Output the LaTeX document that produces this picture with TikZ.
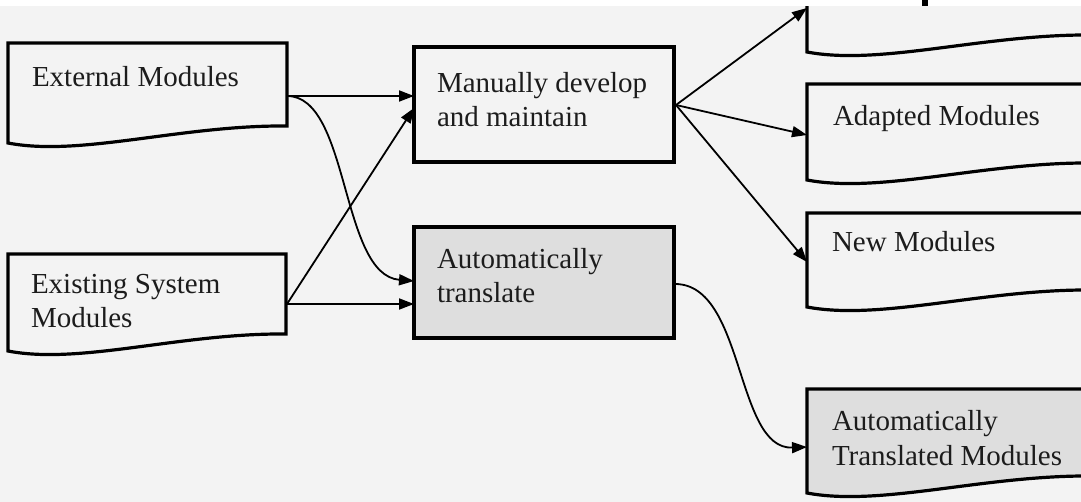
\documentclass[tikz,border=0pt]{standalone}
\usepackage{fontspec}
\setmainfont{Liberation Serif}
\usetikzlibrary{arrows.meta,calc}
\definecolor{bg}{HTML}{F3F3F3}
\definecolor{shade}{HTML}{DEDEDE}
\definecolor{ink}{HTML}{1C1C1C}
\tikzset{
  boxnode/.style={draw=none, inner sep=0pt, outer sep=0pt, rectangle},
  docline/.style={draw=black, line width=3.2pt, line join=miter},
  lbl/.style={inner sep=0pt, outer sep=0pt, anchor=base west, align=left, text=ink,
    font=\fontsize{29}{34.5}\selectfont},
  conn/.style={draw=black, line width=1.8pt, -{Triangle[length=15pt,width=11pt]}},
}
% name, x0, top, x1, right-bottom y, fill
\newcommand\mydoc[6]{%
  \node[boxnode, minimum width={#4-#2}, minimum height={#5-#3}, anchor=north west] (#1) at (#2,#3) {};
  \draw[docline, fill=#6] (#4,#5) -- (#4,#3) -- (#2,#3) -- (#2,{#5+17})
     .. controls ({#2+0.26*(#4-#2)},{#5+31}) and ({#2+0.62*(#4-#2)},{#5-1}) .. (#4,#5) -- cycle;
}
\begin{document}
\begin{tikzpicture}[x=1pt,y=-1pt]
\useasboundingbox (0,0) rectangle (1081,502);
\fill[bg] (0,0) rectangle (1081,502);

% document-shaped boxes
\mydoc{ext}{8}{43}{287}{126}{bg}
\mydoc{exs}{8}{254}{286}{334}{bg}
\mydoc{top}{807}{-60}{1092}{35}{bg}
\mydoc{ada}{807}{84}{1092}{163}{bg}
\mydoc{new}{807}{213}{1092}{290}{bg}
\mydoc{tra}{807}{389}{1092}{476}{shade}

% process boxes
\node[boxnode, draw=black, line width=3.2pt, fill=bg, minimum width=260pt, minimum height=115pt, anchor=north west] (man) at (414,47) {};
\node[boxnode, draw=black, line width=3.2pt, fill=shade, minimum width=260pt, minimum height=111pt, anchor=north west] (aut) at (414,227) {};

% labels (multi-line labels are anchored at their last baseline)
\node[lbl] (extT) at (32,87) {External Modules};
\node[lbl] (exsT) at (31,328) {Existing System\\Modules};
\node[lbl] (manT) at (437,127) {Manually develop\\and maintain};
\node[lbl] (autT) at (437,303) {Automatically\\translate};
\node[lbl] (adaT) at (833,126) {Adapted Modules};
\node[lbl] (newT) at (832,252) {New Modules};
\node[lbl] (traT) at (832,465) {Automatically\\Translated Modules};

% connectors
\draw[conn] ($(ext.north east)+(0,53)$) -- ($(man.north west)+(0,49)$);
\draw[conn] ($(ext.north east)+(0,53)$) .. controls (350,96) and (340,275) .. ($(aut.north west)+(0,54)$);
\draw[conn] ($(exs.north east)+(1,50)$) -- ($(man.north west)+(0,61)$);
\draw[conn] ($(exs.north east)+(1,50)$) -- ($(aut.north west)+(0,77)$);
\draw[conn] ($(man.north east)+(2,58)$) -- ($(top.south west)+(0,-27)$);
\draw[conn] ($(man.north east)+(2,58)$) -- ($(ada.north west)+(0,51)$);
\draw[conn] ($(man.north east)+(2,58)$) -- ($(new.north west)+(0,49)$);
\draw[conn] ($(aut.north east)+(1,57)$) .. controls (745,284) and (735,450) .. ($(tra.north west)+(0,58)$);

% top margin strip and cut-off mark
\fill[white] (0,0) rectangle (1081,6);
\fill[black] (922,0) rectangle (928,6);
\end{tikzpicture}
\end{document}
